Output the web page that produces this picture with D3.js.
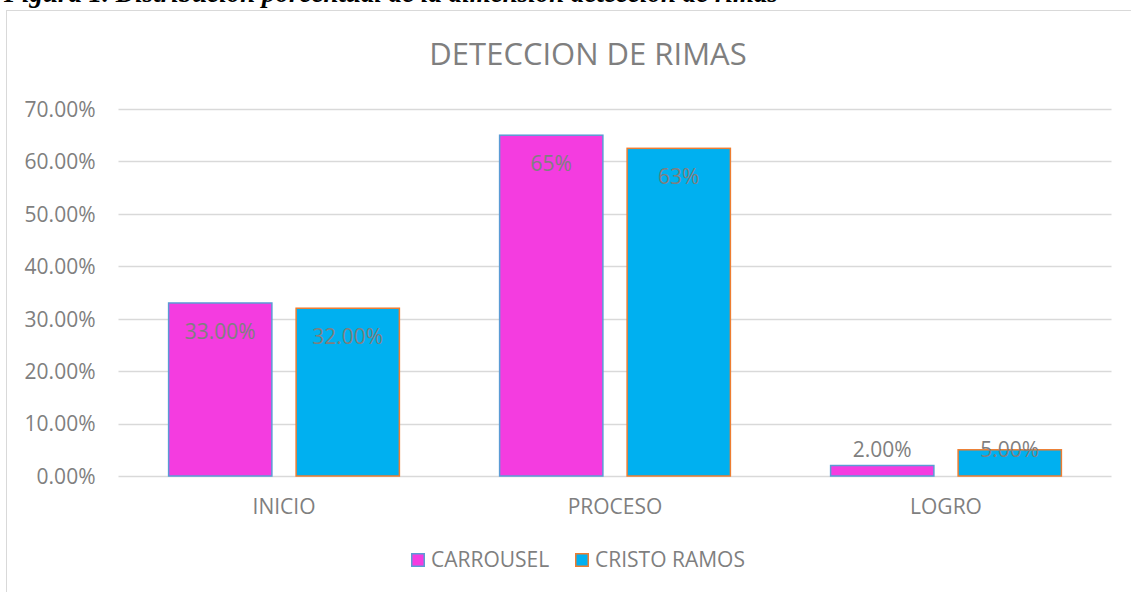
<!DOCTYPE html>
<html>
<head>
<meta charset="utf-8">
<script src="https://cdn.jsdelivr.net/npm/d3@7"></script>
<style>
  html, body { margin: 0; padding: 0; background: #fff; }
  svg { display: block; }
</style>
</head>
<body>
<div id="chart"></div>
<script>
const categories = ['INICIO', 'PROCESO', 'LOGRO'];
const seriesNames = ['CARROUSEL', 'CRISTO RAMOS'];
const carrousel = [0.33, 0.65, 0.02];
const cristoRamos = [0.32, 0.625, 0.05];
const labelText = [
  ['33.00%', '65%', '2.00%'],
  ['32.00%', '63%', '5.00%'],
];
const yTicks = [0, 0.1, 0.2, 0.3, 0.4, 0.5, 0.6, 0.7];

const width = 1131, height = 592;
const fill = ['#f43ce0', '#00b0f0'];
const stroke = ['#5b9bd5', '#ed7d31'];
const textColor = '#7f7f7f';
const font = '"Open Sans", sans-serif';

const svg = d3.select('#chart').append('svg')
  .attr('width', width).attr('height', height);

svg.append('rect').attr('width', width).attr('height', height).attr('fill', '#fff');

// caption above the chart, cut off by the top edge of the picture
svg.append('text')
  .attr('x', 4).attr('y', 2)
  .attr('font-family', '"Liberation Serif", serif')
  .attr('font-weight', 'bold').attr('font-style', 'italic')
  .attr('font-size', 27).attr('fill', '#000')
  .text('Figura 1. Distribución porcentual de la dimensión detección de rimas');

// chart frame
svg.append('rect')
  .attr('x', 6.5).attr('y', 10.5)
  .attr('width', 1140).attr('height', 600)
  .attr('fill', '#fff').attr('stroke', '#d9d9d9').attr('stroke-width', 1);

svg.append('text')
  .attr('x', 588).attr('y', 65)
  .attr('text-anchor', 'middle')
  .attr('font-family', font).attr('font-size', 31)
  .attr('fill', textColor)
  .text('DETECCION DE RIMAS');

const y = d3.scaleLinear().domain([0, 0.7]).range([476, 109]);
const x0 = d3.scaleBand().domain(categories).range([118.5, 1111.5]).padding(0);
const x1 = d3.scaleBand().domain(seriesNames).range([0, x0.bandwidth()])
  .paddingInner(0.19).paddingOuter(0.393);

// gridlines
svg.append('g')
  .selectAll('line').data(yTicks).join('line')
  .attr('x1', x0.range()[0]).attr('x2', x0.range()[1])
  .attr('y1', d => Math.round(y(d)) + 0.5).attr('y2', d => Math.round(y(d)) + 0.5)
  .attr('stroke', '#d9d9d9').attr('stroke-width', 1.3);

// y axis labels
const yAxis = svg.append('g')
  .attr('transform', `translate(${x0.range()[0] - 23},0)`)
  .call(d3.axisLeft(y).tickValues(yTicks).tickFormat(d3.format('.2%')).tickSize(0).tickPadding(0));
yAxis.select('.domain').remove();
yAxis.selectAll('text')
  .attr('font-family', font).attr('font-size', 21).attr('fill', textColor)
  .attr('dy', '0.35em');

// x axis labels
const xAxis = svg.append('g')
  .attr('transform', `translate(0,${y(0)})`)
  .call(d3.axisBottom(x0).tickSize(0));
xAxis.select('.domain').remove();
xAxis.selectAll('text')
  .attr('y', 38).attr('dy', 0)
  .attr('font-family', font).attr('font-size', 21).attr('fill', textColor);

const data = [carrousel, cristoRamos];

const groups = svg.append('g')
  .selectAll('g').data(categories).join('g')
  .attr('transform', d => `translate(${x0(d)},0)`);

groups.selectAll('rect')
  .data((c, ci) => seriesNames.map((s, si) => ({ s, si, v: data[si][ci] })))
  .join('rect')
  .attr('x', d => x1(d.s))
  .attr('y', d => y(d.v))
  .attr('width', x1.bandwidth())
  .attr('height', d => y(0) - y(d.v))
  .attr('fill', d => fill[d.si])
  .attr('stroke', d => stroke[d.si])
  .attr('stroke-width', 1.5);

groups.selectAll('text')
  .data((c, ci) => seriesNames.map((s, si) => ({ s, si, v: data[si][ci], t: labelText[si][ci] })))
  .join('text')
  .attr('x', d => x1(d.s) + x1.bandwidth() / 2)
  .attr('y', d => Math.min(y(d.v) + 28.5, y(0) - 26))
  .attr('dy', '0.35em')
  .attr('text-anchor', 'middle')
  .attr('font-family', font).attr('font-size', 21).attr('fill', textColor)
  .text(d => d.t);

// legend
const legend = svg.append('g').attr('transform', 'translate(411,553)');
const legendX = [0, 164];
const items = legend.selectAll('g').data(seriesNames).join('g')
  .attr('transform', (d, i) => `translate(${legendX[i]},0)`);
items.append('rect')
  .attr('x', 0.75).attr('y', 0.75).attr('width', 12.5).attr('height', 12.5)
  .attr('fill', (d, i) => fill[i]).attr('stroke', (d, i) => stroke[i]).attr('stroke-width', 1.5);
items.append('text')
  .attr('x', 20).attr('y', 7).attr('dy', '0.35em')
  .attr('font-family', font).attr('font-size', 21).attr('fill', textColor)
  .text(d => d);
</script>
</body>
</html>
